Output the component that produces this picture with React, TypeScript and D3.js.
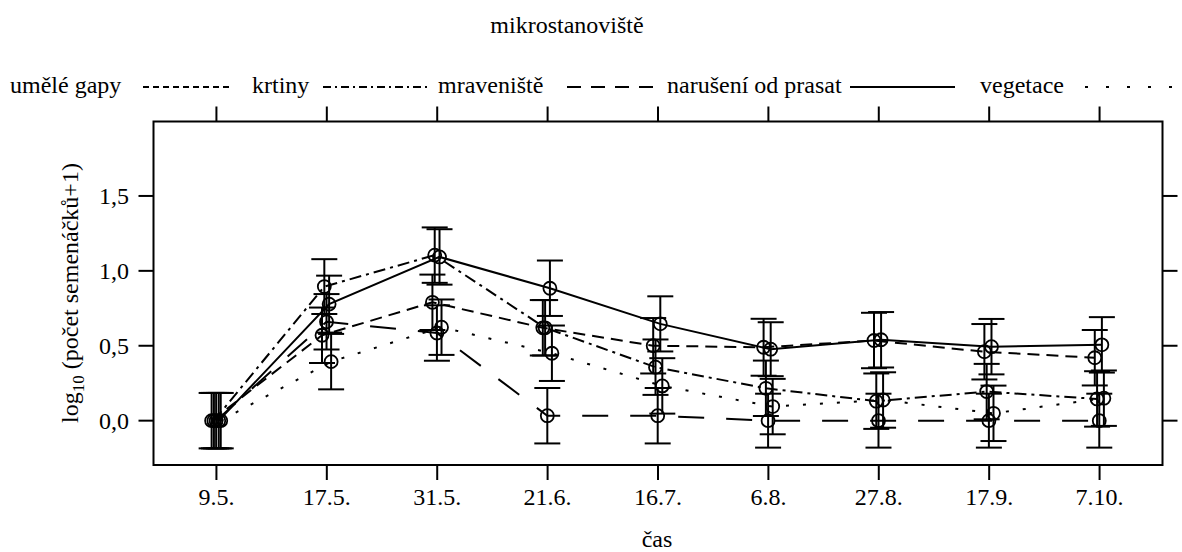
import React from 'react';
import * as d3 from 'd3';

// sampling dates (x categories)
const categories = ['9.5.', '17.5.', '31.5.', '21.6.', '16.7.', '6.8.', '27.8.', '17.9.', '7.10.'];

// mean log10(count+1) per microhabitat
const umeleGapy = [0, 0.57, 0.79, 0.62, 0.5, 0.49, 0.535, 0.46, 0.42];
const krtiny = [0, 0.895, 1.105, 0.62, 0.357, 0.216, 0.13, 0.194, 0.145];
const mraveniste = [0, 0.66, 0.585, 0.033, 0.033, 0, 0, 0, 0];
const naruseni = [0, 0.778, 1.093, 0.884, 0.646, 0.477, 0.54, 0.494, 0.506];
const vegetace = [0, 0.394, 0.624, 0.45, 0.232, 0.094, 0.138, 0.049, 0.15];

// half widths of the error bars
const ciUmeleGapy = [0.185, 0.185, 0.185, 0.185, 0.185, 0.19, 0.185, 0.185, 0.185];
const ciKrtiny = [0.185, 0.183, 0.185, 0.185, 0.185, 0.185, 0.185, 0.185, 0.185];
const ciMraveniste = [0.185, 0.185, 0.185, 0.185, 0.185, 0.18, 0.18, 0.18, 0.18];
const ciNaruseni = [0.185, 0.19, 0.185, 0.185, 0.184, 0.18, 0.185, 0.185, 0.185];
const ciVegetace = [0.185, 0.185, 0.185, 0.185, 0.185, 0.185, 0.185, 0.185, 0.185];

const yTicks = [0, 0.5, 1, 1.5];

const seriesNames = ['umělé gapy', 'krtiny', 'mraveniště', 'narušení od prasat', 'vegetace'];

const series = [
  { name: seriesNames[0], values: umeleGapy, ci: ciUmeleGapy, dash: '12,7', keyDash: '6,4', dx: -4.8 },
  { name: seriesNames[1], values: krtiny, ci: ciKrtiny, dash: '12,5,3,5', keyDash: '8,4,2,4', dx: -2.5 },
  { name: seriesNames[2], values: mraveniste, ci: ciMraveniste, dash: '26,22', keyDash: '14,10', dx: -0.3 },
  { name: seriesNames[3], values: naruseni, ci: ciNaruseni, dash: null, keyDash: null, dx: 2.3 },
  { name: seriesNames[4], values: vegetace, ci: ciVegetace, dash: '3,14', keyDash: '3,18', dx: 4.3 },
];

// legend layout: text start, line start, line end
const legendPos = [
  [10, 143, 232],
  [252, 323, 428],
  [438, 567, 660],
  [667, 850, 955],
  [980, 1085, 1182],
];

const W = 1182;
const H = 552;
const box = { left: 153.5, right: 1162.5, top: 121.5, bottom: 465 };
const font = '"Liberation Serif", "Times New Roman", serif';

export default function App() {
  const x = d3.scaleLinear().domain([0.43, 9.57]).range([box.left, box.right]);
  const y = d3.scaleLinear().domain([-0.296, 1.997]).range([box.bottom, box.top]);
  const fmt = (v: number) => d3.format('.1f')(v).replace('.', ',');

  return (
    <svg width={W} height={H} style={{ position: 'absolute', left: 0, top: 0, background: '#fff' }}
      fontFamily={font}>
      <text x={567} y={33} fontSize={24} textAnchor="middle">mikrostanoviště</text>

      {series.map((s, i) => (
        <g key={s.name}>
          <text x={legendPos[i][0]} y={93} fontSize={24}>{s.name}</text>
          <line x1={legendPos[i][1]} x2={legendPos[i][2]} y1={87} y2={87}
            stroke="#000" strokeWidth={2} strokeDasharray={s.keyDash ?? undefined} />
        </g>
      ))}

      {/* frame */}
      <rect x={box.left} y={box.top} width={box.right - box.left} height={box.bottom - box.top}
        fill="none" stroke="#000" strokeWidth={2} />

      {categories.map((c, i) => (
        <g key={c}>
          <line x1={x(i + 1)} x2={x(i + 1)} y1={box.bottom} y2={box.bottom + 15} stroke="#000" strokeWidth={2} />
          <line x1={x(i + 1)} x2={x(i + 1)} y1={box.top} y2={box.top - 15} stroke="#000" strokeWidth={2} />
          <text x={x(i + 1)} y={505} fontSize={24} textAnchor="middle">{c}</text>
        </g>
      ))}

      {yTicks.map(t => (
        <g key={t}>
          <line x1={box.left - 15} x2={box.left} y1={y(t)} y2={y(t)} stroke="#000" strokeWidth={2} />
          <line x1={box.right} x2={box.right + 15} y1={y(t)} y2={y(t)} stroke="#000" strokeWidth={2} />
          <text x={129} y={y(t) + 8} fontSize={24} textAnchor="end">{fmt(t)}</text>
        </g>
      ))}

      <text x={657} y={547} fontSize={24} textAnchor="middle">čas</text>
      <text transform="translate(78,293) rotate(-90)" fontSize={24} textAnchor="middle">
        log<tspan fontSize={17} dy={6}>10</tspan><tspan dy={-6}> (počet semenáčků+1)</tspan>
      </text>

      {series.map(s => {
        const line = d3.line<number>()
          .x((_, i) => x(i + 1) + s.dx)
          .y(v => y(v));
        return (
          <g key={s.name}>
            <path d={line(s.values) ?? ''} fill="none" stroke="#000" strokeWidth={2}
              strokeDasharray={s.dash ?? undefined} />
            {s.values.map((v, i) => {
              const cx = x(i + 1) + s.dx;
              const hi = y(v + s.ci[i]);
              const lo = y(v - s.ci[i]);
              return (
                <g key={i} stroke="#000" strokeWidth={2} fill="none">
                  <line x1={cx} x2={cx} y1={hi} y2={lo} />
                  <line x1={cx - 13} x2={cx + 13} y1={hi} y2={hi} />
                  <line x1={cx - 13} x2={cx + 13} y1={lo} y2={lo} />
                  <circle cx={cx} cy={y(v)} r={6.5} strokeWidth={1.8} />
                </g>
              );
            })}
          </g>
        );
      })}
    </svg>
  );
}
